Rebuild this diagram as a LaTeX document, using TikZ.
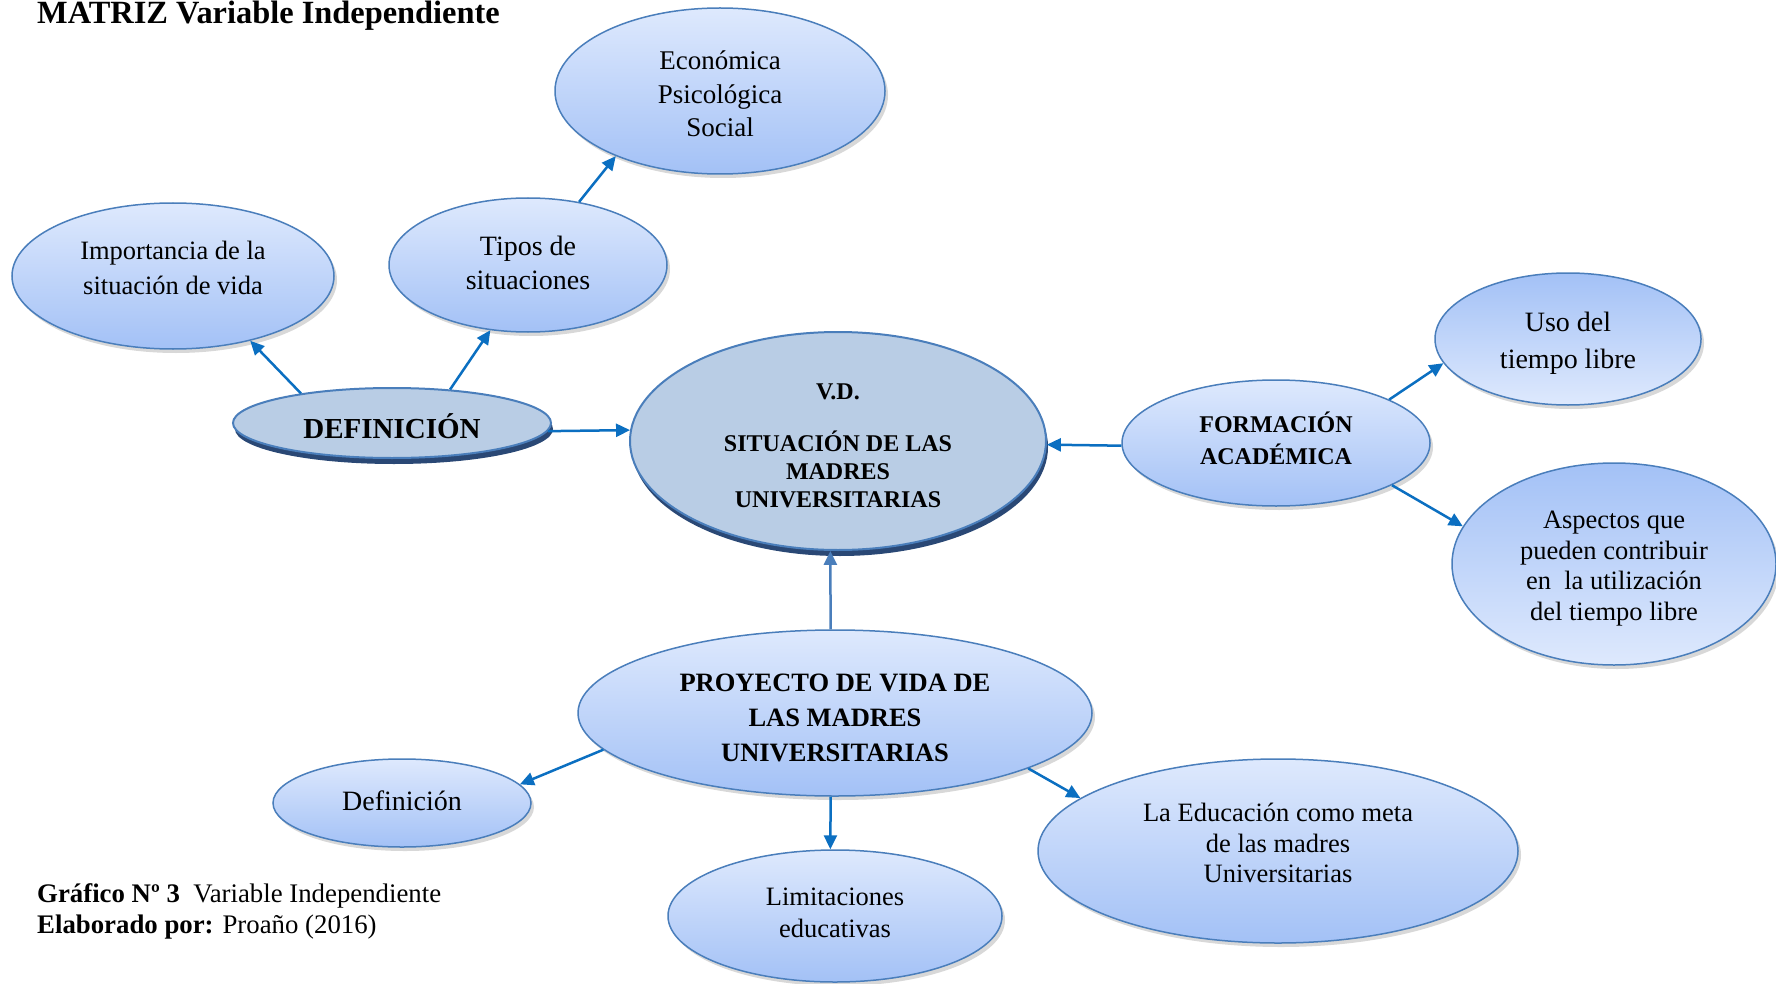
\documentclass[tikz,border=0pt]{standalone}
\usepackage{fontspec}
\setmainfont{Liberation Serif}
\usetikzlibrary{shapes.geometric,arrows.meta,shadows}
\definecolor{lt}{HTML}{DEE9FD}
\definecolor{dk}{HTML}{A3C1F6}
\definecolor{bd}{HTML}{4A7EBB}
\definecolor{cfill}{HTML}{B9CDE5}
\definecolor{cshadow}{HTML}{2A4875}
\definecolor{arr}{HTML}{0B6FC1}
\definecolor{arrlt}{HTML}{4A7EBB}
\newcommand\fz[2]{\fontsize{#1}{#2}\selectfont}
\begin{document}
\begin{tikzpicture}[x=1pt,y=-1pt,
  ell/.style={ellipse, draw=bd, line width=1.5pt, inner sep=0pt,
     top color=lt, bottom color=dk,
     drop shadow={shadow xshift=3pt, shadow yshift=-4pt, opacity=0.25, fill=black!60}},
  ellrev/.style={ell, top color=dk, bottom color=lt},
  dark/.style={ellipse, draw=bd, line width=2pt, inner sep=0pt, fill=cfill,
     drop shadow={shadow xshift=2pt, shadow yshift=-6pt, opacity=1, fill=cshadow}},
  lbl/.style={align=center, inner sep=0pt},
  link/.style={draw=arr, line width=2.5pt, -{Triangle[length=14pt,width=13pt]}},
  txt/.style={anchor=base west, inner sep=0pt}
  ]
\path[use as bounding box, fill=white] (0,0) rectangle (1776,984);

\node[txt, font=\bfseries\fz{32.4}{36}] (title) at (37,24) {MATRIZ Variable Independiente};

% ellipses
\node[ell, minimum width=330pt, minimum height=166pt] (eco) at (720,91) {};
\node[ell, minimum width=322pt, minimum height=146pt] (imp) at (173,276) {};
\node[ell, minimum width=278pt, minimum height=134pt] (tip) at (528,265) {};
\node[dark, minimum width=318pt, minimum height=70pt] (def) at (392,423) {};
\node[dark, minimum width=416pt, minimum height=218pt] (cen) at (838,441) {};
\node[ell, minimum width=308pt, minimum height=126pt] (for) at (1276,443) {};
\node[ellrev, minimum width=266pt, minimum height=132pt] (uso) at (1568,339) {};
\node[ellrev, minimum width=324pt, minimum height=202pt] (asp) at (1614,564) {};
\node[ell, minimum width=514pt, minimum height=166pt] (pro) at (835,713) {};
\node[ell, minimum width=258pt, minimum height=88pt] (dfn) at (402,803) {};
\node[ell, minimum width=334pt, minimum height=132pt] (lim) at (835,916) {};
\node[ell, minimum width=480pt, minimum height=184pt] (edu) at (1278,851) {};

% texts
\node[lbl, font=\fz{27}{33.5}] (ecoT) at ([yshift=-3pt]eco.center) {Económica\\Psicológica\\Social};
\node[lbl, font=\fz{26.5}{35}] (impT) at ([yshift=8pt]imp.center) {Importancia de la\\situación de vida};
\node[lbl, font=\fz{28}{34}] (tipT) at ([yshift=2pt]tip.center) {Tipos de\\situaciones};
\node[lbl, font=\bfseries\fz{29}{34}] (defT) at ([yshift=-3.5pt]def.center) {DEFINICIÓN};
\node[lbl, font=\bfseries\fz{24}{27.7}] (cenT) at ([yshift=-4.5pt]cen.center) {V.D.\\[25pt]SITUACIÓN DE LAS\\MADRES\\UNIVERSITARIAS};
\node[lbl, font=\bfseries\fz{24}{31.7}] (forT) at ([yshift=4.5pt]for.center) {FORMACIÓN\\ACADÉMICA};
\node[lbl, font=\fz{28}{37}] (usoT) at ([yshift=-4.5pt]uso.center) {Uso del\\tiempo libre};
\node[lbl, font=\fz{26.5}{30.5}] (aspT) at ([yshift=-4.5pt]asp.center) {Aspectos que\\pueden contribuir\\en\ \ la utilización\\del tiempo libre};
\node[lbl, font=\bfseries\fz{26.5}{35}] (proT) at ([yshift=-4.5pt]pro.center) {PROYECTO DE VIDA DE\\LAS MADRES\\UNIVERSITARIAS};
\node[lbl, font=\fz{28}{34}] (dfnT) at ([yshift=2pt]dfn.center) {Definición};
\node[lbl, font=\fz{26.5}{31.7}] (limT) at ([yshift=3pt]lim.center) {Limitaciones\\educativas};
\node[lbl, font=\fz{26.5}{30.6}] (eduT) at ([yshift=8pt]edu.center) {La Educación como meta\\de las madres\\Universitarias};

% connectors
\draw[link] (tip.51) -- (eco.212);
\draw[link] (def.162) -- (imp.320);
\draw[link] (def.30) -- (tip.240);
\draw[link] (def.357) -- (cen.177);
\draw[link] (for.181) -- (cen.359);
\draw[link] (for.21) -- (uso.191);
\draw[link] (for.340) -- (asp.166);
\draw[link, draw=arrlt] (pro.93) -- (cen.266);
\draw[link] (pro.189) -- (dfn.9);
\draw[link] (pro.267) -- (lim.94);
\draw[link] (pro.344) -- (edu.165);

\node[txt, font=\fz{26.8}{31}] (cap1) at (37,902) {\textbf{Gráfico Nº 3}\ \ Variable Independiente};
\node[txt, font=\fz{26.8}{31}] (cap2) at (37,933) {\textbf{Elaborado por:} Proaño (2016)};
\end{tikzpicture}
\end{document}
